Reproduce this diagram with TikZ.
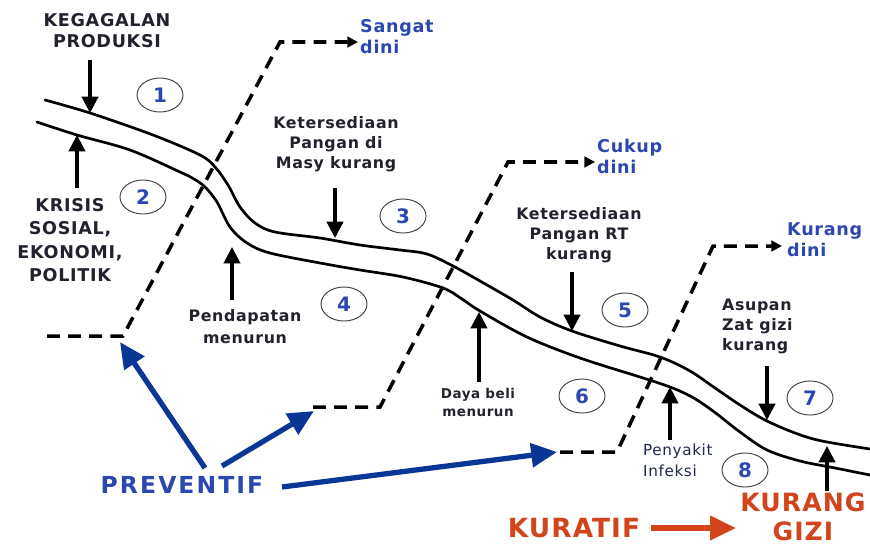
\documentclass[tikz,border=0pt]{standalone}
\usepackage{fontspec}
\setmainfont{DejaVu Sans}
\newfontfamily\lblfont{DejaVu Sans}[LetterSpace=4]
\newfontfamily\wideFont{DejaVu Sans}[LetterSpace=9]
\usetikzlibrary{arrows.meta,shapes.geometric}
\definecolor{lbl}{HTML}{22222E}
\definecolor{nlbl}{HTML}{1E2A4E}
\definecolor{tblue}{HTML}{2A48AE}
\definecolor{ablue}{HTML}{0A3796}
\definecolor{kred}{HTML}{D2451C}
\begin{document}
\begin{tikzpicture}[x=0.03cm,y=-0.03cm,
  road/.style={line width=2.3pt,line cap=round},
  dashline/.style={line width=3pt,dash pattern=on 11pt off 7pt,-{Triangle[length=9pt,width=9pt]}},
  hint/.style={line width=2.6pt,-{Triangle[length=14pt,width=14pt]}},
  barrow/.style={draw=ablue,line width=4.5pt,-{Triangle[length=22pt,width=20pt]}},
  rarrow/.style={draw=kred,line width=4.5pt,-{Triangle[length=22pt,width=20pt]}},
  numb/.style={ellipse,draw=black!75,line width=0.8pt,minimum width=1.38cm,minimum height=1.02cm,inner sep=0pt,text=tblue,font=\lblfont\bfseries\fontsize{17}{17}\selectfont},
  lab/.style={text=lbl,inner sep=0pt},
  capsf/.style={font=\lblfont\bfseries\fontsize{15}{18}\selectfont},
  midf/.style={font=\lblfont\bfseries\fontsize{13.5}{17}\selectfont},
  bluef/.style={text=tblue,inner sep=0pt,align=left,font=\lblfont\bfseries\fontsize{15}{18}\selectfont}]
\useasboundingbox (0,0) rectangle (870,548);
\fill[white] (0,0) rectangle (870,548);

% road (two parallel curves)
\draw[road] plot[smooth,tension=0.55] coordinates {(45,100) (90,113) (153,135) (200,155) (215,167) (228,185) (240,207) (255,223) (275,232) (320,238) (360,245) (400,250) (427,254) (453,266) (480,281) (513,300) (540,317) (572,331) (620,346) (660,357) (690,371) (715,388) (740,405) (765,420) (795,433) (822,441) (870,449)};
\draw[road] plot[smooth,tension=0.55] coordinates {(37,122) (77,135) (130,150) (180,172) (194,179) (205,187) (217,202) (230,227) (247,243) (270,253) (320,263) (360,270) (403,277) (443,288) (462,299) (480,311) (527,337) (580,358) (640,377) (670,387) (692,397) (713,411) (740,432) (767,450) (800,461) (835,468) (870,475)};

% dashed detection paths
\coordinate (a1) at (47,336); \coordinate (a2) at (123,336); \coordinate (a3) at (280,42); \coordinate (a4) at (358,42);
\coordinate (b1) at (313,407); \coordinate (b2) at (380,407); \coordinate (b3) at (508,162); \coordinate (b4) at (595,162);
\coordinate (c1) at (560,452); \coordinate (c2) at (617,452); \coordinate (c3) at (713,246); \coordinate (c4) at (782,246);
\draw[dashline] (a1) -- (a2) -- (a3) -- (a4);
\draw[dashline] (b1) -- (b2) -- (b3) -- (b4);
\draw[dashline] (c1) -- (c2) -- (c3) -- (c4);

% labels
\node[lab,capsf,align=center,anchor=north] (kegagalan) at (107,13) {KEGAGALAN\\PRODUKSI};
\node[lab,align=center,anchor=north,font=\lblfont\bfseries\fontsize{15}{20}\selectfont] (krisis) at (70,198) {KRISIS\\SOSIAL,\\EKONOMI,\\POLITIK};
\node[bluef,anchor=north west] (sangat) at (360,19) {Sangat\\dini};
\node[bluef,anchor=north west] (cukup) at (597,139) {Cukup\\dini};
\node[bluef,anchor=north west] (kurangdini) at (787,222) {Kurang\\dini};
\node[lab,midf,align=center,anchor=north] (masy) at (336,116) {Ketersediaan\\Pangan di\\Masy kurang};
\node[lab,midf,align=center,anchor=north] (rt) at (579,207) {Ketersediaan\\Pangan RT\\kurang};
\node[lab,align=center,anchor=north,font=\lblfont\bfseries\fontsize{13.5}{19}\selectfont] (pendapatan) at (245,309) {Pendapatan\\menurun};
\node[lab,align=center,anchor=north,font=\lblfont\bfseries\fontsize{11.5}{15}\selectfont] (daya) at (478,388) {Daya beli\\menurun};
\node[text=nlbl,inner sep=0pt,align=left,anchor=north west,font=\lblfont\fontsize{13}{17.5}\selectfont] (penyakit) at (643,444) {Penyakit\\Infeksi};
\node[lab,midf,align=left,anchor=north west] (asupan) at (722,299) {Asupan\\Zat gizi\\kurang};
\node[inner sep=0pt,anchor=north,text=tblue,font=\wideFont\bfseries\fontsize{20}{20}\selectfont] (preventif) at (182,476) {PREVENTIF};
\node[inner sep=0pt,anchor=north,text=kred,font=\lblfont\bfseries\fontsize{22.5}{22.5}\selectfont] (kuratif) at (574,518) {KURATIF};
\node[inner sep=0pt,anchor=north,align=center,text=kred,font=\lblfont\bfseries\fontsize{21.5}{24}\selectfont] (gizi) at (803,493) {KURANG\\GIZI};

% numbered ellipses
\node[numb] (n1) at (160,95) {1};
\node[numb] (n2) at (143,197) {2};
\node[numb] (n3) at (403,216) {3};
\node[numb] (n4) at (344,304) {4};
\node[numb] (n5) at (625,310) {5};
\node[numb] (n6) at (582,396) {6};
\node[numb] (n7) at (810,398) {7};
\node[numb] (n8) at (745,470) {8};

% black factor arrows
\coordinate (s1) at (90,60);   \coordinate (t1) at (90,113);
\coordinate (s2) at (77,188);  \coordinate (t2) at (77,135);
\coordinate (s3) at (232,300); \coordinate (t3) at (232,247);
\coordinate (s4) at (335,188); \coordinate (t4) at (335,238);
\coordinate (s5) at (479,382); \coordinate (t5) at (479,312);
\coordinate (s6) at (572,272); \coordinate (t6) at (572,331);
\coordinate (s7) at (670,440); \coordinate (t7) at (670,387);
\coordinate (s8) at (767,366); \coordinate (t8) at (767,420);
\coordinate (s9) at (827,491); \coordinate (t9) at (827,446);
\foreach \i in {1,...,9} {\draw[hint] (s\i) -- (t\i);}

% blue and red arrows
\coordinate (p1) at (205,468); \coordinate (q1) at (120,342);
\coordinate (p2) at (222,466); \coordinate (q2) at (314,411);
\coordinate (p3) at (282,487); \coordinate (q3) at (557,452);
\draw[barrow] (p1) -- (q1);
\draw[barrow] (p2) -- (q2);
\draw[barrow] (p3) -- (q3);
\coordinate (r1) at (651,528); \coordinate (r2) at (736,528);
\draw[rarrow] (r1) -- (r2);
\end{tikzpicture}
\end{document}
